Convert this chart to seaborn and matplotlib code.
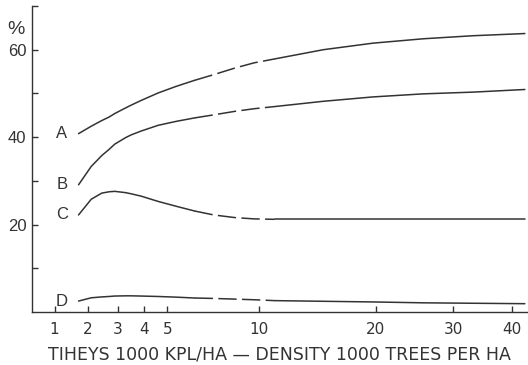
import numpy as np
import pandas as pd
import matplotlib
matplotlib.use("Agg")
import matplotlib.pyplot as plt
import seaborn as sns

# ---- data ----
x_vals = [1.7, 2.1, 2.45, 2.7, 2.9, 3.3, 3.5, 3.9, 4.6, 5.4, 6.3, 7.3, 8.5, 9.7,
          11.1, 14.9, 19.7, 25.7, 33.1, 42.6]
curve_A = [40.8, 42.5, 43.8, 44.6, 45.4, 46.7, 47.3, 48.4, 50.1, 51.6, 53.0, 54.3, 55.8, 57.0,
           57.9, 60.0, 61.5, 62.5, 63.2, 63.7]
curve_B = [29.1, 33.3, 35.8, 37.2, 38.4, 39.9, 40.5, 41.4, 42.7, 43.6, 44.4, 45.1, 45.9, 46.5,
           47.0, 48.2, 49.2, 49.9, 50.3, 50.9]
curve_C = [22.2, 25.8, 27.2, 27.5, 27.6, 27.3, 27.05, 26.5, 25.3, 24.2, 23.1, 22.2, 21.6, 21.3,
           21.2, 21.2, 21.2, 21.2, 21.2, 21.2]
curve_D = [2.5, 3.25, 3.45, 3.55, 3.65, 3.7, 3.7, 3.65, 3.55, 3.4, 3.2, 3.1, 2.95, 2.8,
           2.6, 2.45, 2.3, 2.1, 2.0, 1.9]
curve_names = ["A", "B", "C", "D"]
dash_from, dash_to = 6.3, 11.1   # uncertain (dashed) stretch of every curve

x_ticks = [1, 2, 3, 4, 5, 10, 20, 30, 40]
y_ticks = [10, 20, 30, 40, 50, 60, 70]
y_ticklabels = ["", "20", "", "40", "", "60", ""]
x_label = "TIHEYS 1000 KPL/HA \u2014 DENSITY 1000 TREES PER HA"

# ---- long table: each curve split into solid / dashed / solid pieces ----
rows = []
for name, vals in zip(curve_names, [curve_A, curve_B, curve_C, curve_D]):
    for x, v in zip(x_vals, vals):
        if x <= dash_from:
            rows.append((name, name + "1", "solid", x, v))
        if dash_from <= x <= dash_to:
            rows.append((name, name + "2", "dashed", x, v))
        if x >= dash_to:
            rows.append((name, name + "3", "solid", x, v))
df = pd.DataFrame(rows, columns=["curve", "piece", "kind", "density", "pct"])

# ---- figure ----
sns.set_theme(style="white")
plt.rcParams["font.family"] = ["Liberation Sans", "DejaVu Sans"]
ink = "#333333"

fig = plt.figure(figsize=(5.28, 3.65), dpi=100)
ax = fig.add_axes([32 / 528, 53 / 365, 495 / 528, 306 / 365])

C0 = 5.5
fwd = lambda x: np.log(np.asarray(x, dtype=float) + C0)
inv = lambda y: np.exp(np.asarray(y, dtype=float)) - C0
ax.set_xscale("function", functions=(fwd, inv))

sns.lineplot(data=df, x="density", y="pct", units="piece", style="kind",
             estimator=None, color=ink, linewidth=1.1, sort=False,
             dashes={"solid": "", "dashed": (12, 3.5)}, legend=False, ax=ax)

# curve letters, just left of each curve's start
for name, vals in zip(curve_names, [curve_A, curve_B, curve_C, curve_D]):
    ax.annotate(name, xy=(x_vals[0], vals[0]), xytext=(-12, 0),
                textcoords="offset points", ha="center", va="center",
                fontsize=12, color=ink, family=["Liberation Sans"])

# limits: spine from px 32 to 527 given 1 -> px 54.5, 235 px per log-unit
ax.set_xlim(float(inv(fwd(1) - 22.5 / 235)), float(inv(fwd(1) + 472.5 / 235)))
ax.set_ylim(0, 70)

ax.set_xticks(x_ticks)
ax.set_xticklabels([str(t) for t in x_ticks], fontsize=11, color=ink,
                   family=["DejaVu Sans"])
ax.set_yticks(y_ticks)
ax.set_yticklabels(y_ticklabels, fontsize=12, color=ink, family=["Liberation Sans"])
ax.tick_params(axis="both", direction="in", length=4, width=1, color=ink,
               left=True, bottom=True)
ax.tick_params(axis="x", pad=7)
ax.tick_params(axis="y", pad=4)
ax.set_xlabel(x_label, fontsize=12.5, color=ink, labelpad=6, family=["DejaVu Sans"])
ax.set_ylabel("")
ax.text(-7 / 495, 282 / 306, "%", transform=ax.transAxes, ha="right",
        va="center", fontsize=14, color=ink, family=["Liberation Sans"])

for side in ["top", "right"]:
    ax.spines[side].set_visible(False)
for side in ["left", "bottom"]:
    ax.spines[side].set_color(ink)
    ax.spines[side].set_linewidth(1.0)

fig.savefig("out.png", dpi=100)
